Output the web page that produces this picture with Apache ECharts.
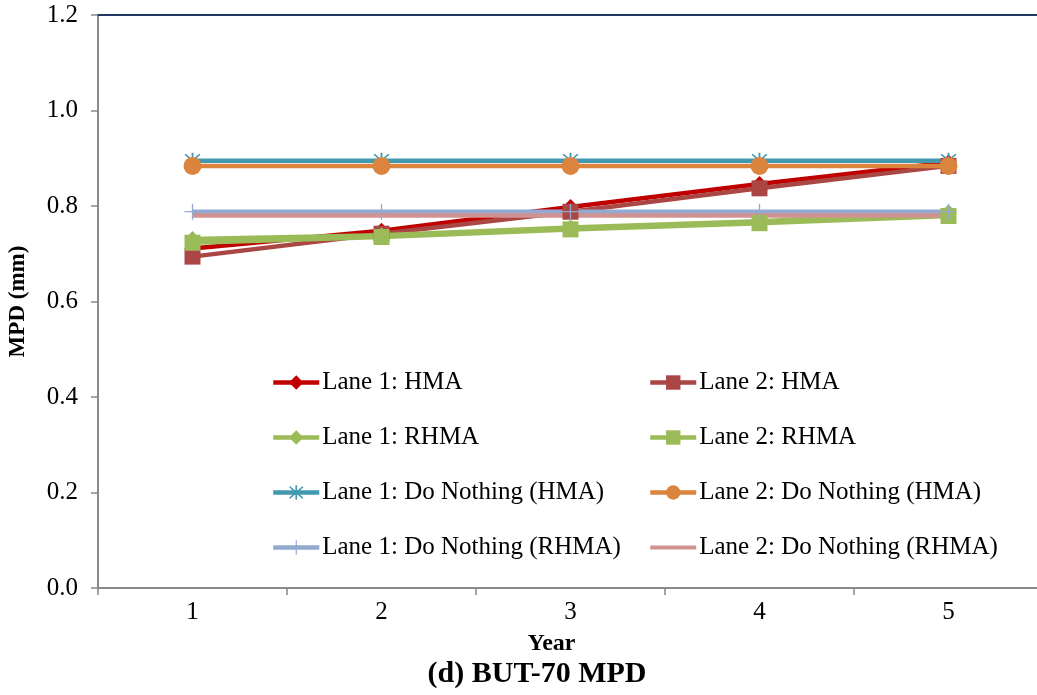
<!DOCTYPE html>
<html>
<head>
<meta charset="utf-8">
<script src="https://cdn.jsdelivr.net/npm/echarts@6/dist/echarts.min.js"></script>
<style>html,body{margin:0;padding:0;background:#fff;}#c{width:1037px;height:695px;}</style>
</head>
<body>
<div id="c"></div>
<script>
const years = ['1', '2', '3', '4', '5'];
const lane1HMA = [0.711, 0.748, 0.798, 0.846, 0.891];
const lane2HMA = [0.694, 0.742, 0.788, 0.837, 0.884];
const lane1RHMA = [0.731, 0.739, 0.755, 0.768, 0.787];
const lane2RHMA = [0.723, 0.735, 0.751, 0.764, 0.779];
const lane1DNHMA = [0.895, 0.895, 0.895, 0.895, 0.895];
const lane2DNHMA = [0.884, 0.884, 0.884, 0.884, 0.884];
const lane1DNRHMA = [0.788, 0.788, 0.788, 0.788, 0.788];
const lane2DNRHMA = [0.780, 0.780, 0.780, 0.780, 0.780];
const yTicks = { min: 0, max: 1.2, interval: 0.2 };

const FONT = '"Liberation Serif", "Times New Roman", serif';
const asterisk = 'path://M-1,-10 L1,-10 L1,10 L-1,10 Z M-8.7,-7.3 L-7.3,-8.7 L8.7,7.3 L7.3,8.7 Z M7.3,-8.7 L8.7,-7.3 L-7.3,8.7 L-8.7,7.3 Z';
const plus = 'path://M-0.8,-10 L0.8,-10 L0.8,10 L-0.8,10 Z M-10,-0.8 L10,-0.8 L10,0.8 L-10,0.8 Z';
const lineOnly = 'path://M0,0 L46,0 L46,0.05 L0,0.05 Z M0,7 L46,7 L46,11 L0,11 Z M0,17.95 L46,17.95 L46,18 L0,18 Z';

function s(name, data, color, symbol, size) {
  return {
    name, type: 'line', data,
    symbol: symbol || 'none', symbolSize: size || 0, showSymbol: !!symbol,
    lineStyle: { color, width: 4.5 },
    itemStyle: { color },
    emphasis: { disabled: true },
    animation: false
  };
}

const series = [
  s('Lane 1: HMA', lane1HMA, '#C00000', 'diamond', 16),
  s('Lane 2: HMA', lane2HMA, '#AA4643', 'rect', 16),
  s('Lane 1: RHMA', lane1RHMA, '#9BBB59', 'diamond', 16),
  s('Lane 2: RHMA', lane2RHMA, '#9BBB59', 'rect', 16),
  s('Lane 1: Do Nothing (HMA)', lane1DNHMA, '#4198AF', asterisk, 16),
  s('Lane 2: Do Nothing (HMA)', lane2DNHMA, '#DB843D', 'circle', 18),
  s('Lane 1: Do Nothing (RHMA)', lane1DNRHMA, '#93A9CF', plus, 16),
  s('Lane 2: Do Nothing (RHMA)', lane2DNRHMA, '#D19392', null, 0)
];

function legendData(idx) {
  return idx.map(i => i === 7 ? { name: series[i].name, icon: lineOnly } : series[i].name);
}

const legendBase = {
  orient: 'vertical', top: 365, itemWidth: 46, itemHeight: 18, itemGap: 30,
  lineStyle: { width: 4.5 },
  textStyle: { fontFamily: FONT, fontSize: 25, color: '#000', padding: [0, 0, 0, -2] }
};

const chart = echarts.init(document.getElementById('c'), null, { renderer: 'canvas' });
chart.setOption({
  backgroundColor: '#fff',
  animation: false,
  title: {
    text: '(d) BUT-70 MPD', left: 532, textAlign: 'center', top: 654,
    textStyle: { fontFamily: FONT, fontSize: 30, fontWeight: 'bold', color: '#000' }
  },
  legend: [
    Object.assign({ left: 266, data: legendData([0, 2, 4, 6]) }, legendBase),
    Object.assign({ left: 643, data: legendData([1, 3, 5, 7]) }, legendBase)
  ],
  grid: { left: 98, right: -6, top: 15, bottom: 107, containLabel: false, outerBoundsMode: 'none' },
  xAxis: [{
    type: 'category', data: years, boundaryGap: true,
    name: 'Year', nameLocation: 'middle', nameGap: 44,
    nameTextStyle: { fontFamily: FONT, fontSize: 24, fontWeight: 'bold', color: '#000', padding: [0, 38, 0, 0] },
    axisLine: { lineStyle: { color: '#888', width: 2 } },
    axisTick: { show: true, length: 7, lineStyle: { color: '#888', width: 1.5 } },
    axisLabel: { fontFamily: FONT, fontSize: 25, color: '#000', margin: 12 },
    splitLine: { show: false }
  }, {
    type: 'category', data: years, position: 'top',
    axisLine: { lineStyle: { color: '#1F3864', width: 2 } },
    axisTick: { show: false }, axisLabel: { show: false }, splitLine: { show: false }
  }],
  yAxis: {
    type: 'value', min: yTicks.min, max: yTicks.max, interval: yTicks.interval,
    name: 'MPD (mm)', nameLocation: 'middle', nameGap: 68, nameRotate: 90,
    nameTextStyle: { fontFamily: FONT, fontSize: 23, fontWeight: 'bold', color: '#000' },
    axisLine: { show: true, lineStyle: { color: '#888', width: 2 } },
    axisTick: { show: true, length: 7, lineStyle: { color: '#888', width: 1.5 } },
    axisLabel: { fontFamily: FONT, fontSize: 25, color: '#000', margin: 20, formatter: v => v.toFixed(1) },
    splitLine: { show: false }
  },
  series
});
</script>
</body>
</html>
